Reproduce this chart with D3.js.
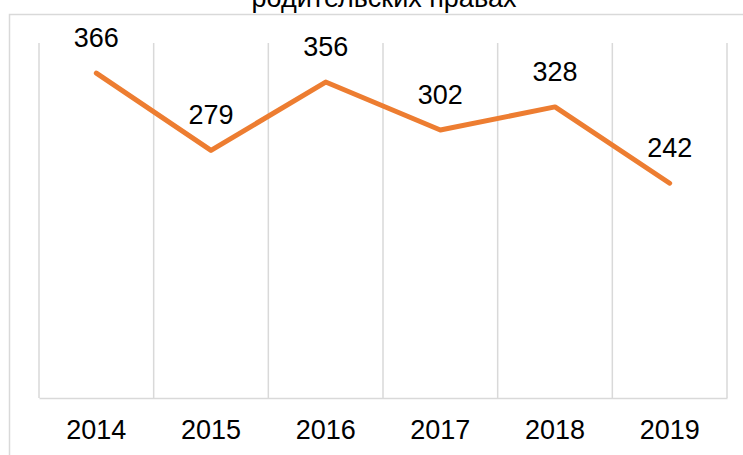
<!DOCTYPE html>
<html>
<head>
<meta charset="utf-8">
<script src="https://cdn.jsdelivr.net/npm/d3@7"></script>
<style>
  body { margin: 0; background: #fff; }
  text { font-family: "Liberation Sans", Arial, sans-serif; fill: #000; }
</style>
</head>
<body>
<svg id="chart" width="743" height="455"></svg>
<script>
// chart data
var years = ["2014", "2015", "2016", "2017", "2018", "2019"];
var values = [366, 279, 356, 302, 328, 242];
var titleLine = "родительских правах";

var svg = d3.select("#chart");
// plot area edges
var plotLeft = 39, plotRight = 727, plotTop = 43, plotBottom = 398;

// outer frame (runs off the right and bottom edge)
svg.append("rect")
  .attr("x", 9.5).attr("y", 14.5)
  .attr("width", 800).attr("height", 500)
  .attr("fill", "none")
  .attr("stroke", "#d9d9d9")
  .attr("stroke-width", 1.5);

// title, only the last line is visible
svg.append("text")
  .attr("x", 384).attr("y", 7)
  .attr("text-anchor", "middle")
  .style("font-size", "27px")
  .text(titleLine);

var x = d3.scaleBand().domain(years).range([plotLeft, plotRight]);
var y = d3.scaleLinear().domain([0, 400]).range([plotBottom, plotTop]);

// vertical gridlines at band edges
var edges = years.map(function(d) { return x(d); }).concat([plotRight]);
svg.selectAll(".grid")
  .data(edges)
  .enter().append("line")
  .attr("x1", function(d) { return d; })
  .attr("x2", function(d) { return d; })
  .attr("y1", plotTop).attr("y2", plotBottom)
  .attr("stroke", "#d9d9d9")
  .attr("stroke-width", 1.5);

// bottom axis
var xAxis = svg.append("g")
  .attr("transform", "translate(0," + plotBottom + ")")
  .call(d3.axisBottom(x).tickSize(0).tickPadding(22));
xAxis.select(".domain").attr("stroke", "#d9d9d9").attr("stroke-width", 1.5);
xAxis.selectAll("text")
  .style("font-size", "27px")
  .style("font-family", "'Liberation Sans', Arial, sans-serif")
  .attr("fill", "#000");

// line
var line = d3.line()
  .x(function(d, i) { return x(years[i]) + x.bandwidth() / 2; })
  .y(function(d) { return y(d); });

svg.append("path")
  .datum(values)
  .attr("d", line)
  .attr("fill", "none")
  .attr("stroke", "#ed7d31")
  .attr("stroke-width", 5)
  .attr("stroke-linecap", "round")
  .attr("stroke-linejoin", "round");

// value labels
svg.selectAll(".lbl")
  .data(values)
  .enter().append("text")
  .attr("x", function(d, i) { return x(years[i]) + x.bandwidth() / 2; })
  .attr("y", function(d) { return y(d) - 26; })
  .attr("text-anchor", "middle")
  .style("font-size", "27px")
  .text(function(d) { return d; });
</script>
</body>
</html>
